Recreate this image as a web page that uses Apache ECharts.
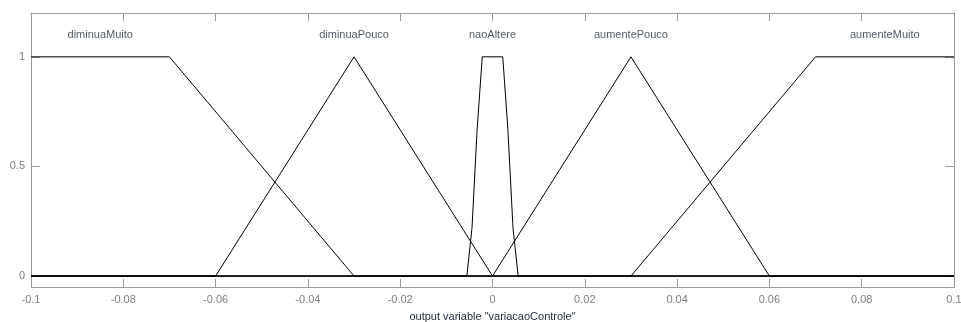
<!DOCTYPE html>
<html>
<head>
<meta charset="utf-8">
<script src="https://cdn.jsdelivr.net/npm/echarts@6/dist/echarts.min.js"></script>
<style>
  html, body { margin: 0; padding: 0; background: #fff; }
  #chart { width: 961px; height: 322px; }
</style>
</head>
<body>
<div id="chart"></div>
<script>
// membership functions of output variable "variacaoControle"
const mfNames = ['diminuaMuito', 'diminuaPouco', 'naoAltere', 'aumentePouco', 'aumenteMuito']
const diminuaMuitoX = [-0.1, -0.07, -0.03, 0.1]
const diminuaMuitoY = [1, 1, 0, 0]
const diminuaPoucoX = [-0.1, -0.06, -0.03, 0, 0.1]
const diminuaPoucoY = [0, 0, 1, 0, 0]
const naoAltereX = [-0.1, -0.00556, -0.00444, -0.00333, -0.00222, 0.00222, 0.00333, 0.00444, 0.00556, 0.1]
const naoAltereY = [0, 0, 0.22, 0.67, 1, 1, 0.67, 0.22, 0, 0]
const aumentePoucoX = [-0.1, 0, 0.03, 0.06, 0.1]
const aumentePoucoY = [0, 0, 1, 0, 0]
const aumenteMuitoX = [-0.1, 0.03, 0.07, 0.1]
const aumenteMuitoY = [0, 0, 1, 1]
// where each name is written (x of the label, y level)
const labelX = [-0.085, -0.03, 0, 0.03, 0.085]
const labelY = 1.1
const xStep = 0.02
const yTicks = [0, 0.5, 1]

const mfX = [diminuaMuitoX, diminuaPoucoX, naoAltereX, aumentePoucoX, aumenteMuitoX]
const mfY = [diminuaMuitoY, diminuaPoucoY, naoAltereY, aumentePoucoY, aumenteMuitoY]

const boxColor = '#9a9a9a'
const tickText = '#7f7f7f'
const font = 'Liberation Sans, Arial, sans-serif'

const chart = echarts.init(document.getElementById('chart'))

const lineSeries = mfNames.map((name, i) => ({
  name: name,
  type: 'line',
  xAxisIndex: 0,
  yAxisIndex: 0,
  symbol: 'none',
  silent: true,
  z: 3,
  lineStyle: { color: '#000', width: 1 },
  data: mfX[i].map((x, j) => [x, mfY[i][j]])
}))

const labelSeries = {
  type: 'scatter',
  symbolSize: 0,
  silent: true,
  data: mfNames.map((n, i) => ({ value: [labelX[i], labelY], name: n })),
  label: {
    show: true,
    position: 'inside',
    formatter: p => p.name,
    color: '#1c2b3a',
    fontSize: 11,
    fontFamily: font
  }
}

// box made of four axes, ticks pointing inward like MATLAB
const boxLine = { show: true, onZero: false, lineStyle: { color: boxColor, width: 1 } }
const xTick = { show: true, inside: true, length: 8, lineStyle: { color: boxColor, width: 1 } }
const yTick = { show: true, inside: true, length: 9, lineStyle: { color: boxColor, width: 1 }, customValues: yTicks }

const option = {
  animation: false,
  grid: {
    left: 31, right: 7, top: 13, bottom: 35,
    outerBoundsMode: 'none',
    containLabel: false,
    show: false
  },
  xAxis: [
    {
      type: 'value',
      min: -0.1, max: 0.1, interval: xStep,
      position: 'bottom',
      name: 'output variable "variacaoControle"',
      nameLocation: 'middle',
      nameGap: 24,
      nameTextStyle: { color: '#1c2b3a', fontSize: 11, fontFamily: font },
      axisLine: boxLine,
      splitLine: { show: false },
      axisTick: xTick,
      axisLabel: { color: tickText, fontSize: 11, fontFamily: font, margin: 7,
        formatter: v => String(Math.round(v * 100) / 100) }
    },
    {
      type: 'value',
      min: -0.1, max: 0.1, interval: xStep,
      position: 'top',
      axisLine: boxLine,
      splitLine: { show: false },
      axisTick: xTick,
      axisLabel: { show: false }
    }
  ],
  yAxis: [
    {
      type: 'value',
      min: -0.05, max: 1.2,
      position: 'left',
      axisLine: boxLine,
      splitLine: { show: false },
      axisTick: yTick,
      axisLabel: { color: tickText, fontSize: 11, fontFamily: font, margin: 6, customValues: yTicks }
    },
    {
      type: 'value',
      min: -0.05, max: 1.2,
      position: 'right',
      axisLine: boxLine,
      splitLine: { show: false },
      axisTick: yTick,
      axisLabel: { show: false, customValues: yTicks }
    }
  ],
  series: lineSeries.concat([labelSeries])
}

chart.setOption(option)
</script>
</body>
</html>
